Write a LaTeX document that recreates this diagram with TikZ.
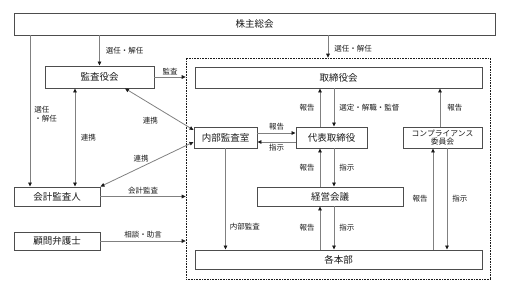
\documentclass[tikz,border=0pt]{standalone}
\usepackage{fontspec}
\setmainfont{Noto Sans CJK JP}
\usetikzlibrary{positioning, arrows.meta}
\definecolor{bInk}{HTML}{1A1A1A}
\definecolor{bLine}{HTML}{4D4D4D}
\definecolor{aLine}{HTML}{808080}

\begin{document}
\begin{tikzpicture}[x=1pt, y=-1pt, >={Triangle[length=4pt,width=3.6pt,color=bInk]},
  box/.style={draw=bLine, line width=0.9pt, fill=white, inner sep=0pt, text=bInk, font=\fontsize{9.5}{11}\selectfont},
  lbl/.style={inner sep=1pt, text=bInk, font=\fontsize{7.5}{8.5}\selectfont},
  arr/.style={->, aLine, line width=0.8pt},
  dbl/.style={<->, aLine, line width=0.8pt}]
  \useasboundingbox (0,0) rectangle (510,299);
  % group of the company
  \node[draw=bInk, densely dotted, line width=0.6pt, minimum width=304pt, minimum height=221pt] (grp) at (338,168.5) {};
  \node[box, minimum width=481pt, minimum height=22pt] (soukai) at (254.5,24) {株主総会};
  \node[box, minimum width=109pt, minimum height=22pt] (kansayaku) at (99.5,77) {監査役会};
  \node[box, minimum width=287pt, minimum height=21pt] (torikai) at (338.5,77.5) {取締役会};
  \node[box, minimum width=63pt, minimum height=21pt] (naibu) at (225.5,137.5) {内部監査室};
  \node[box, minimum width=71pt, minimum height=21pt] (daihyo) at (331.5,137.5) {代表取締役};
  \node[box, minimum width=79pt, minimum height=21pt, align=center, font=\fontsize{7.8}{8.8}\selectfont] (comp) at (442.5,137.5) {コンプライアンス\\委員会};
  \node[box, minimum width=146pt, minimum height=19pt] (keiei) at (330,196.5) {経営会議};
  \node[box, minimum width=287pt, minimum height=19pt] (honbu) at (338.5,259.5) {各本部};
  \node[box, minimum width=86pt, minimum height=19pt] (kaikei) at (57,196.5) {会計監査人};
  \node[box, minimum width=86pt, minimum height=18pt] (bengo) at (57,241) {顧問弁護士};

  \coordinate (c30) at (30,0);   \coordinate (c75) at (75,0);
  \coordinate (c320) at (320,0); \coordinate (c328) at (328,0);
  \coordinate (c334) at (334,0); \coordinate (c433) at (433,0);
  \coordinate (c440) at (440,0); \coordinate (c447) at (447,0);

  % outside
  \draw[arr] (kansayaku.north |- soukai.south) -- (kansayaku.north) node[lbl, midway, right=5pt] {選任・解任};
  \draw[arr] (soukai.south -| c328) -- (grp.north -| c328) node[lbl, pos=0.6, right=5pt] {選任・解任};
  \draw[arr] (soukai.south -| c30) -- (kaikei.north -| c30) node[lbl, pos=0.52, right=3pt, align=left] {選任\\・解任};
  \draw[dbl] (kansayaku.south -| c75) -- (kaikei.north -| c75) node[lbl, midway, right=4.5pt] {連携};
  \draw[dbl] ([xshift=25.5pt]kansayaku.south) -- ([yshift=7.5pt]naibu.west) node[lbl, midway, xshift=-9pt, yshift=-11pt] {連携};
  \draw[dbl] (kaikei.north east) -- ([yshift=-4.5pt]naibu.west) node[lbl, midway, xshift=-6pt, yshift=6pt] {連携};
  \draw[arr] (kansayaku.east) -- (kansayaku.east -| grp.west) node[lbl, midway, above=1pt] {監査};
  \draw[arr] (kaikei.east) -- (kaikei.east -| grp.west) node[lbl, midway, above=1pt] {会計監査};
  \draw[arr] (bengo.east) -- (bengo.east -| grp.west) node[lbl, midway, above=1pt] {相談・助言};

  % inside
  \draw[arr] (naibu.south) -- (naibu.south |- honbu.north) node[lbl, pos=0.77, right=3pt] {内部監査};
  \draw[arr] ([yshift=4.5pt]naibu.east) -- ([yshift=4.5pt]daihyo.west) node[lbl, midway, above=1pt] {報告};
  \draw[arr] ([yshift=-4.5pt]daihyo.west) -- ([yshift=-4.5pt]naibu.east) node[lbl, midway, below=1pt] {指示};
  \draw[arr] (daihyo.north -| c320) -- (torikai.south -| c320) node[lbl, midway, left=4pt] {報告};
  \draw[arr] (torikai.south -| c334) -- (daihyo.north -| c334) node[lbl, midway, right=4pt] {選定・解職・監督};
  \draw[arr] (keiei.north -| c320) -- (daihyo.south -| c320) node[lbl, midway, left=4pt] {報告};
  \draw[arr] (daihyo.south -| c334) -- (keiei.north -| c334) node[lbl, midway, right=4pt] {指示};
  \draw[arr] (honbu.north -| c320) -- (keiei.south -| c320) node[lbl, midway, left=4pt] {報告};
  \draw[arr] (keiei.south -| c334) -- (honbu.north -| c334) node[lbl, midway, right=4pt] {指示};
  \draw[arr] (honbu.north -| c433) -- (comp.south -| c433) node[lbl, midway, left=4pt] {報告};
  \draw[arr] (comp.south -| c447) -- (honbu.north -| c447) node[lbl, midway, right=4pt] {指示};
  \draw[arr] (comp.north -| c440) -- (torikai.south -| c440) node[lbl, midway, right=6pt] {報告};
\end{tikzpicture}
\end{document}
